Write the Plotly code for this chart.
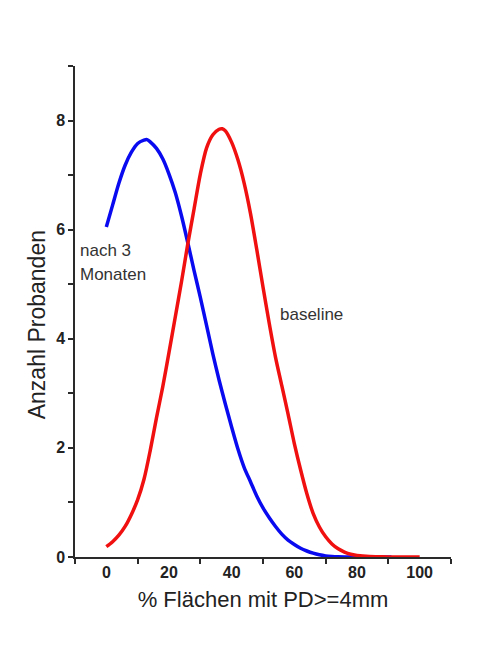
import plotly.graph_objects as go

# ---- data ----
x_blue = [0, 2, 4, 6, 8, 10, 12, 13, 14, 16, 18, 20, 22, 24, 26, 28, 30, 32, 34, 36, 38, 40,
          42, 44, 46, 48, 50, 52, 54, 56, 58, 60, 62, 64, 66, 68, 70, 72, 74, 78, 82, 86, 91]
y_blue = [6.05, 6.45, 6.85, 7.18, 7.42, 7.58, 7.64, 7.65, 7.61, 7.49, 7.30, 7.02, 6.68, 6.25,
          5.76, 5.25, 4.76, 4.24, 3.72, 3.24, 2.80, 2.38, 1.98, 1.64, 1.38, 1.12, 0.90, 0.72,
          0.56, 0.42, 0.31, 0.23, 0.16, 0.11, 0.07, 0.04, 0.02, 0.01, 0.005, 0.0, 0.0, 0.0, 0.0]

x_red = [0, 2, 4, 6, 8, 10, 12, 14, 16, 18, 20, 22, 24, 26, 28, 30, 32, 34, 36, 37, 38, 40,
         42, 44, 46, 48, 50, 52, 54, 56, 58, 60, 62, 64, 66, 68, 70, 72, 74, 76, 78, 80,
         84, 88, 92, 96, 100]
y_red = [0.19, 0.28, 0.40, 0.56, 0.78, 1.05, 1.42, 1.95, 2.55, 3.12, 3.75, 4.40, 5.05, 5.74,
         6.38, 7.02, 7.50, 7.74, 7.84, 7.85, 7.81, 7.60, 7.28, 6.85, 6.30, 5.64, 4.95, 4.28,
         3.66, 3.14, 2.62, 2.08, 1.60, 1.16, 0.80, 0.55, 0.37, 0.24, 0.15, 0.09, 0.05, 0.03,
         0.01, 0.005, 0.0, 0.0, 0.0]

x_label_vals = [0, 20, 40, 60, 80, 100]
x_tick_marks = [-10, 10, 30, 50, 70, 90, 110]
y_tick_vals = [0, 1, 2, 3, 4, 5, 6, 7, 8, 9]
y_tick_text = ["0", "", "2", "", "4", "", "6", "", "8", ""]

FONT = "Arial, Liberation Sans, sans-serif"
AXC = "#2a2a2a"

fig = go.Figure()
fig.add_trace(go.Scatter(x=x_blue, y=y_blue, mode="lines",
                         line=dict(color="#0a0af0", width=3.5, shape="spline", smoothing=0.8),
                         showlegend=False))
fig.add_trace(go.Scatter(x=x_red, y=y_red, mode="lines",
                         line=dict(color="#f01010", width=3.5, shape="spline", smoothing=0.8),
                         showlegend=False))

fig.add_annotation(x=-8.9, y=5.61, text="nach 3", showarrow=False, xanchor="left",
                   yanchor="middle", font=dict(family=FONT, size=17, color="#333333"))
fig.add_annotation(x=-8.9, y=5.17, text="Monaten", showarrow=False, xanchor="left",
                   yanchor="middle", font=dict(family=FONT, size=17, color="#333333"))
fig.add_annotation(x=54.8, y=4.44, text="baseline", showarrow=False, xanchor="left",
                   yanchor="middle", font=dict(family=FONT, size=17, color="#333333"))

# y-axis title placed as rotated text
fig.add_annotation(xref="paper", yref="paper", x=-0.101, y=0.472,
                   text="Anzahl Probanden", textangle=-90, showarrow=False,
                   xanchor="center", yanchor="middle",
                   font=dict(family=FONT, size=23, color="#222222"))

fig.update_layout(
    width=500, height=656,
    margin=dict(l=67, r=57, t=58, b=107),
    plot_bgcolor="white", paper_bgcolor="white",
    font=dict(family=FONT, color="#222222"),
    xaxis=dict(range=[-10, 110], showgrid=False, zeroline=False,
               showline=True, linecolor=AXC, linewidth=1.5,
               tickvals=x_label_vals, ticks="",
               tickfont=dict(family=FONT, size=16, color="#222222", weight="bold"),
               minor=dict(tickvals=x_tick_marks, ticks="outside", ticklen=5,
                          tickcolor=AXC, tickwidth=1.5),
               title=dict(text="% Flächen mit PD>=4mm",
                          font=dict(family=FONT, size=22, color="#222222"), standoff=12)),
    yaxis=dict(range=[0, 9], showgrid=False, zeroline=False,
               showline=True, linecolor=AXC, linewidth=1.5,
               tickvals=y_tick_vals, ticktext=y_tick_text,
               ticks="outside", ticklen=5, tickcolor=AXC, tickwidth=1.5,
               tickfont=dict(family=FONT, size=16, color="#222222", weight="bold")),
)

fig.write_html("out.html")
